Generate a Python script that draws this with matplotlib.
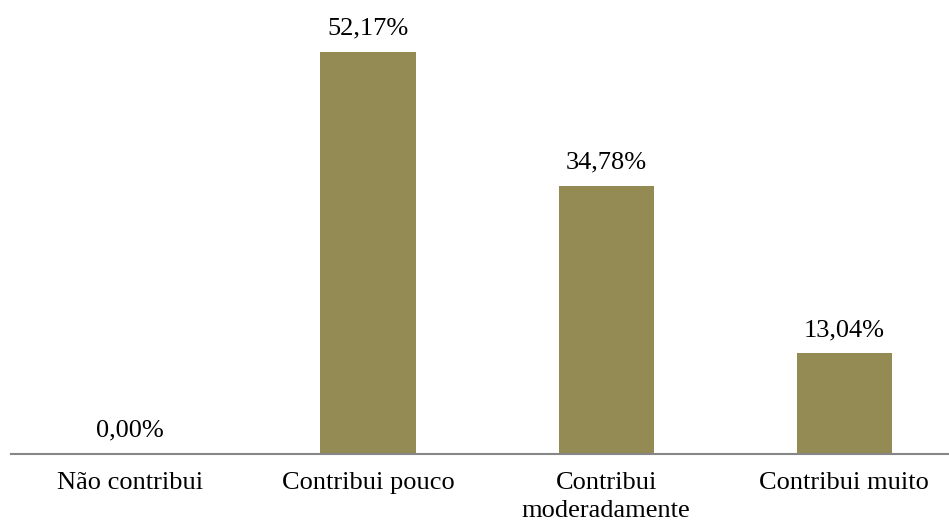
import matplotlib.pyplot as plt

# dados
categorias = ["Não contribui", "Contribui pouco", "Contribui\nmoderadamente", "Contribui muito"]
valores = [0.00, 52.17, 34.78, 13.04]
rotulos = ["0,00%", "52,17%", "34,78%", "13,04%"]

plt.rcParams["font.family"] = ["Liberation Serif", "DejaVu Serif"]

fig = plt.figure(figsize=(9.49, 5.23), dpi=100)
ax = fig.add_axes([11 / 949, 69 / 523, 938 / 949, 454 / 523])

x = range(len(categorias))
barras = ax.bar(x, valores, width=0.4, color="#948A54")

for b, r in zip(barras, rotulos):
    ax.annotate(r, (b.get_x() + b.get_width() / 2, b.get_height()),
                xytext=(0, 9), textcoords="offset points",
                ha="center", va="bottom", fontsize=19)

ax.set_xlim(-0.5, 3.44)
ax.set_ylim(0, 58.9)
ax.set_xticks(list(x))
ax.set_xticklabels(categorias, fontsize=19, linespacing=1.35)
ax.tick_params(axis="x", length=0, pad=13)
ax.set_yticks([])

for s in ["left", "right", "top"]:
    ax.spines[s].set_visible(False)
ax.spines["bottom"].set_color("#868686")
ax.spines["bottom"].set_linewidth(1.5)

plt.savefig("out.png", dpi=100)
